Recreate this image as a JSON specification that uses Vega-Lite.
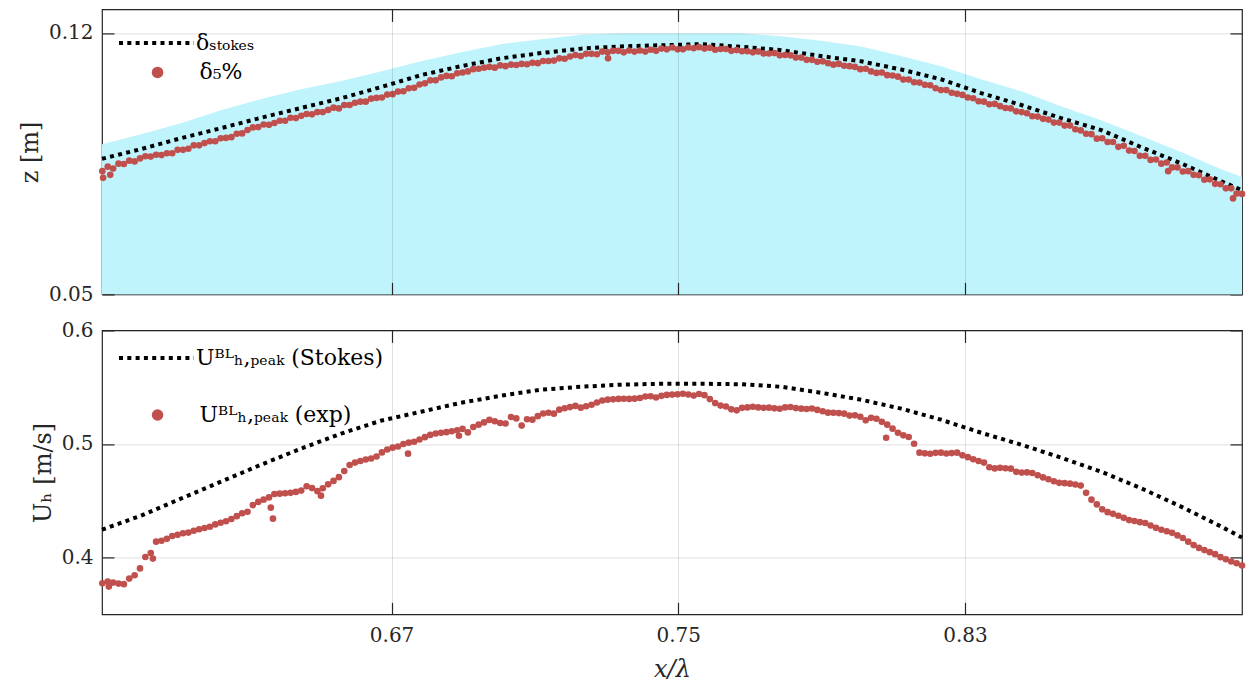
{
  "$schema": "https://vega.github.io/schema/vega-lite/v6.json",
  "background": "white",
  "padding": {"left": 17, "top": 2.4, "right": 8, "bottom": 5},
  "spacing": 36,
  "bounds": "flush",
  "resolve": {"scale": {"color": "independent", "shape": "independent"}, "legend": {"color": "independent", "shape": "independent"}},
  "config": {
    "font": "DejaVu Serif",
    "view": {"stroke": "#262626", "strokeWidth": 1.2},
    "axis": {"domain": false, "tickColor": "#262626", "tickSize": -12, "tickWidth": 1.2, "labelFont": "DejaVu Serif", "labelFontSize": 20, "labelColor": "#262626", "titleFont": "DejaVu Serif", "titleFontSize": 24, "titleFontWeight": "normal", "titleColor": "#262626", "gridColor": "#262626", "gridOpacity": 0.15, "gridWidth": 1},
    "axisY": {"titlePadding": 6, "labelPadding": 21},
    "axisX": {"titlePadding": 12, "labelPadding": 23},
    "legend": {"orient": "none", "title": null, "padding": 0, "labelLimit": 500, "labelFont": "DejaVu Serif", "labelFontSize": 22, "labelColor": "#000000"}
  },
  "datasets": {
    "crv": [
      {"x":0.5892,"zs":0.0863,"zc":0.0902,"us":0.4246},
      {"x":0.6001,"zs":0.0889,"zc":0.0929,"us":0.4369},
      {"x":0.6112,"zs":0.0918,"zc":0.0958,"us":0.4519},
      {"x":0.6224,"zs":0.0945,"zc":0.0993,"us":0.4668},
      {"x":0.6336,"zs":0.0973,"zc":0.1023,"us":0.4818},
      {"x":0.6447,"zs":0.0999,"zc":0.1049,"us":0.4959},
      {"x":0.6559,"zs":0.1025,"zc":0.1071,"us":0.5091},
      {"x":0.6670,"zs":0.1055,"zc":0.1097,"us":0.5205},
      {"x":0.6782,"zs":0.1087,"zc":0.1124,"us":0.5284},
      {"x":0.6894,"zs":0.1111,"zc":0.1148,"us":0.5363},
      {"x":0.7005,"zs":0.1132,"zc":0.1170,"us":0.5425},
      {"x":0.7117,"zs":0.1146,"zc":0.1183,"us":0.5478},
      {"x":0.7229,"zs":0.1158,"zc":0.1195,"us":0.5504},
      {"x":0.7340,"zs":0.1164,"zc":0.1199,"us":0.5522},
      {"x":0.7452,"zs":0.1167,"zc":0.1199,"us":0.5530},
      {"x":0.7564,"zs":0.1170,"zc":0.1199,"us":0.5530},
      {"x":0.7675,"zs":0.1163,"zc":0.1199,"us":0.5526},
      {"x":0.7787,"zs":0.1154,"zc":0.1191,"us":0.5504},
      {"x":0.7898,"zs":0.1138,"zc":0.1179,"us":0.5451},
      {"x":0.8010,"zs":0.1124,"zc":0.1164,"us":0.5390},
      {"x":0.8122,"zs":0.1102,"zc":0.1138,"us":0.5311},
      {"x":0.8233,"zs":0.1076,"zc":0.1111,"us":0.5214},
      {"x":0.8345,"zs":0.1039,"zc":0.1076,"us":0.5099},
      {"x":0.8457,"zs":0.1007,"zc":0.1044,"us":0.4994},
      {"x":0.8568,"zs":0.0972,"zc":0.1004,"us":0.4880},
      {"x":0.8680,"zs":0.0940,"zc":0.0966,"us":0.4756},
      {"x":0.8792,"zs":0.0894,"zc":0.0924,"us":0.4610},
      {"x":0.8903,"zs":0.0851,"zc":0.0881,"us":0.4449},
      {"x":0.9015,"zs":0.0803,"zc":0.0835,"us":0.4273},
      {"x":0.9073,"zs":0.0779,"zc":0.0814,"us":0.4176}
    ],
    "pts": [
      {"x":0.5893,"d":0.0830,"u":0.3774},{"x":0.5908,"d":0.0842,"u":0.3790},{"x":0.5923,"d":0.0837,"u":0.3780},{"x":0.5938,"d":0.0850,"u":0.3771},
      {"x":0.5953,"d":0.0849,"u":0.3766},{"x":0.5968,"d":0.0858,"u":0.3815},{"x":0.5983,"d":0.0856,"u":0.3845},{"x":0.5998,"d":0.0864,"u":0.3905},
      {"x":0.6013,"d":0.0870,"u":0.4005},{"x":0.6028,"d":0.0869,"u":0.4040},{"x":0.6043,"d":0.0874,"u":0.4140},{"x":0.6058,"d":0.0873,"u":0.4148},
      {"x":0.6073,"d":0.0878,"u":0.4165},{"x":0.6088,"d":0.0878,"u":0.4190},{"x":0.6103,"d":0.0887,"u":0.4200},{"x":0.6118,"d":0.0887,"u":0.4214},
      {"x":0.6133,"d":0.0890,"u":0.4220},{"x":0.6148,"d":0.0899,"u":0.4236},{"x":0.6163,"d":0.0899,"u":0.4250},{"x":0.6178,"d":0.0905,"u":0.4260},
      {"x":0.6193,"d":0.0910,"u":0.4272},{"x":0.6208,"d":0.0910,"u":0.4292},{"x":0.6223,"d":0.0918,"u":0.4307},{"x":0.6238,"d":0.0919,"u":0.4320},
      {"x":0.6253,"d":0.0921,"u":0.4340},{"x":0.6268,"d":0.0930,"u":0.4365},{"x":0.6283,"d":0.0931,"u":0.4390},{"x":0.6298,"d":0.0940,"u":0.4404},
      {"x":0.6313,"d":0.0947,"u":0.4462},{"x":0.6328,"d":0.0948,"u":0.4490},{"x":0.6343,"d":0.0955,"u":0.4510},{"x":0.6358,"d":0.0954,"u":0.4530},
      {"x":0.6373,"d":0.0959,"u":0.4560},{"x":0.6388,"d":0.0965,"u":0.4563},{"x":0.6403,"d":0.0965,"u":0.4566},{"x":0.6418,"d":0.0973,"u":0.4570},
      {"x":0.6433,"d":0.0972,"u":0.4578},{"x":0.6448,"d":0.0978,"u":0.4590},{"x":0.6463,"d":0.0983,"u":0.4628},{"x":0.6478,"d":0.0982,"u":0.4612},
      {"x":0.6493,"d":0.0988,"u":0.4585},{"x":0.6508,"d":0.0988,"u":0.4610},{"x":0.6523,"d":0.0994,"u":0.4645},{"x":0.6538,"d":0.1000,"u":0.4675},
      {"x":0.6553,"d":0.0998,"u":0.4708},{"x":0.6568,"d":0.1007,"u":0.4762},{"x":0.6583,"d":0.1007,"u":0.4815},{"x":0.6598,"d":0.1013,"u":0.4836},
      {"x":0.6613,"d":0.1016,"u":0.4850},{"x":0.6628,"d":0.1016,"u":0.4864},{"x":0.6643,"d":0.1024,"u":0.4872},{"x":0.6658,"d":0.1026,"u":0.4890},
      {"x":0.6673,"d":0.1027,"u":0.4926},{"x":0.6688,"d":0.1035,"u":0.4952},{"x":0.6703,"d":0.1036,"u":0.4968},{"x":0.6718,"d":0.1043,"u":0.4978},
      {"x":0.6733,"d":0.1044,"u":0.5000},{"x":0.6748,"d":0.1052,"u":0.5012},{"x":0.6763,"d":0.1053,"u":0.5020},{"x":0.6778,"d":0.1062,"u":0.5040},
      {"x":0.6793,"d":0.1065,"u":0.5060},{"x":0.6808,"d":0.1073,"u":0.5080},{"x":0.6823,"d":0.1073,"u":0.5092},{"x":0.6838,"d":0.1081,"u":0.5098},
      {"x":0.6853,"d":0.1085,"u":0.5104},{"x":0.6868,"d":0.1084,"u":0.5112},{"x":0.6883,"d":0.1092,"u":0.5120},{"x":0.6898,"d":0.1094,"u":0.5133},
      {"x":0.6913,"d":0.1097,"u":0.5102},{"x":0.6928,"d":0.1103,"u":0.5150},{"x":0.6943,"d":0.1104,"u":0.5170},{"x":0.6958,"d":0.1107,"u":0.5190},
      {"x":0.6973,"d":0.1109,"u":0.5212},{"x":0.6988,"d":0.1107,"u":0.5200},{"x":0.7003,"d":0.1113,"u":0.5185},{"x":0.7018,"d":0.1111,"u":0.5180},
      {"x":0.7033,"d":0.1115,"u":0.5238},{"x":0.7048,"d":0.1114,"u":0.5225},{"x":0.7063,"d":0.1117,"u":0.5162},{"x":0.7078,"d":0.1116,"u":0.5218},
      {"x":0.7093,"d":0.1120,"u":0.5214},{"x":0.7108,"d":0.1119,"u":0.5245},{"x":0.7123,"d":0.1125,"u":0.5268},{"x":0.7138,"d":0.1125,"u":0.5275},
      {"x":0.7153,"d":0.1126,"u":0.5267},{"x":0.7168,"d":0.1132,"u":0.5302},{"x":0.7183,"d":0.1131,"u":0.5315},{"x":0.7198,"d":0.1137,"u":0.5325},
      {"x":0.7213,"d":0.1141,"u":0.5335},{"x":0.7228,"d":0.1138,"u":0.5320},{"x":0.7243,"d":0.1144,"u":0.5332},{"x":0.7258,"d":0.1144,"u":0.5345},
      {"x":0.7273,"d":0.1143,"u":0.5365},{"x":0.7288,"d":0.1150,"u":0.5383},{"x":0.7303,"d":0.1148,"u":0.5390},{"x":0.7318,"d":0.1152,"u":0.5393},
      {"x":0.7333,"d":0.1152,"u":0.5397},{"x":0.7348,"d":0.1148,"u":0.5398},{"x":0.7363,"d":0.1153,"u":0.5397},{"x":0.7378,"d":0.1150,"u":0.5399},
      {"x":0.7393,"d":0.1153,"u":0.5405},{"x":0.7408,"d":0.1150,"u":0.5418},{"x":0.7423,"d":0.1155,"u":0.5420},{"x":0.7438,"d":0.1152,"u":0.5409},
      {"x":0.7453,"d":0.1158,"u":0.5424},{"x":0.7468,"d":0.1156,"u":0.5432},{"x":0.7483,"d":0.1161,"u":0.5435},{"x":0.7498,"d":0.1156,"u":0.5437},
      {"x":0.7513,"d":0.1156,"u":0.5442},{"x":0.7528,"d":0.1161,"u":0.5436},{"x":0.7543,"d":0.1159,"u":0.5426},{"x":0.7558,"d":0.1162,"u":0.5440},
      {"x":0.7573,"d":0.1158,"u":0.5430},{"x":0.7588,"d":0.1160,"u":0.5395},{"x":0.7603,"d":0.1155,"u":0.5360},{"x":0.7618,"d":0.1157,"u":0.5338},
      {"x":0.7633,"d":0.1157,"u":0.5330},{"x":0.7648,"d":0.1152,"u":0.5305},{"x":0.7663,"d":0.1154,"u":0.5296},{"x":0.7678,"d":0.1151,"u":0.5318},
      {"x":0.7693,"d":0.1151,"u":0.5322},{"x":0.7708,"d":0.1148,"u":0.5328},{"x":0.7723,"d":0.1150,"u":0.5322},{"x":0.7738,"d":0.1145,"u":0.5318},
      {"x":0.7753,"d":0.1145,"u":0.5320},{"x":0.7768,"d":0.1146,"u":0.5314},{"x":0.7783,"d":0.1140,"u":0.5310},{"x":0.7798,"d":0.1141,"u":0.5322},
      {"x":0.7813,"d":0.1140,"u":0.5326},{"x":0.7828,"d":0.1134,"u":0.5316},{"x":0.7843,"d":0.1134,"u":0.5311},{"x":0.7858,"d":0.1128,"u":0.5308},
      {"x":0.7873,"d":0.1128,"u":0.5312},{"x":0.7888,"d":0.1123,"u":0.5300},{"x":0.7903,"d":0.1124,"u":0.5288},{"x":0.7918,"d":0.1119,"u":0.5276},
      {"x":0.7933,"d":0.1115,"u":0.5275},{"x":0.7948,"d":0.1117,"u":0.5272},{"x":0.7963,"d":0.1112,"u":0.5267},{"x":0.7978,"d":0.1111,"u":0.5250},
      {"x":0.7993,"d":0.1109,"u":0.5252},{"x":0.8008,"d":0.1103,"u":0.5240},{"x":0.8023,"d":0.1104,"u":0.5208},{"x":0.8038,"d":0.1097,"u":0.5230},
      {"x":0.8053,"d":0.1093,"u":0.5222},{"x":0.8068,"d":0.1094,"u":0.5195},{"x":0.8083,"d":0.1087,"u":0.5170},{"x":0.8098,"d":0.1086,"u":0.5135},
      {"x":0.8113,"d":0.1083,"u":0.5099},{"x":0.8128,"d":0.1075,"u":0.5076},{"x":0.8143,"d":0.1075,"u":0.5062},{"x":0.8158,"d":0.1068,"u":0.5002},
      {"x":0.8173,"d":0.1067,"u":0.4924},{"x":0.8188,"d":0.1061,"u":0.4918},{"x":0.8203,"d":0.1060,"u":0.4914},{"x":0.8218,"d":0.1052,"u":0.4922},
      {"x":0.8233,"d":0.1047,"u":0.4924},{"x":0.8248,"d":0.1047,"u":0.4916},{"x":0.8263,"d":0.1040,"u":0.4920},{"x":0.8278,"d":0.1037,"u":0.4924},
      {"x":0.8293,"d":0.1034,"u":0.4900},{"x":0.8308,"d":0.1027,"u":0.4884},{"x":0.8323,"d":0.1025,"u":0.4866},{"x":0.8338,"d":0.1017,"u":0.4850},
      {"x":0.8353,"d":0.1016,"u":0.4836},{"x":0.8368,"d":0.1009,"u":0.4795},{"x":0.8383,"d":0.1010,"u":0.4785},{"x":0.8398,"d":0.1004,"u":0.4790},
      {"x":0.8413,"d":0.0999,"u":0.4786},{"x":0.8428,"d":0.0998,"u":0.4783},{"x":0.8443,"d":0.0990,"u":0.4755},{"x":0.8458,"d":0.0988,"u":0.4748},
      {"x":0.8473,"d":0.0985,"u":0.4750},{"x":0.8488,"d":0.0977,"u":0.4745},{"x":0.8503,"d":0.0976,"u":0.4725},{"x":0.8518,"d":0.0970,"u":0.4706},
      {"x":0.8533,"d":0.0968,"u":0.4690},{"x":0.8548,"d":0.0960,"u":0.4672},{"x":0.8563,"d":0.0960,"u":0.4658},{"x":0.8578,"d":0.0952,"u":0.4655},
      {"x":0.8593,"d":0.0952,"u":0.4651},{"x":0.8608,"d":0.0942,"u":0.4643},{"x":0.8623,"d":0.0939,"u":0.4634},{"x":0.8638,"d":0.0930,"u":0.4570},
      {"x":0.8653,"d":0.0929,"u":0.4510},{"x":0.8668,"d":0.0917,"u":0.4468},{"x":0.8683,"d":0.0918,"u":0.4425},{"x":0.8698,"d":0.0908,"u":0.4400},
      {"x":0.8713,"d":0.0908,"u":0.4385},{"x":0.8728,"d":0.0895,"u":0.4368},{"x":0.8743,"d":0.0898,"u":0.4350},{"x":0.8758,"d":0.0885,"u":0.4330},
      {"x":0.8773,"d":0.0884,"u":0.4322},{"x":0.8788,"d":0.0871,"u":0.4312},{"x":0.8803,"d":0.0871,"u":0.4305},{"x":0.8818,"d":0.0860,"u":0.4282},
      {"x":0.8833,"d":0.0861,"u":0.4262},{"x":0.8848,"d":0.0850,"u":0.4245},{"x":0.8863,"d":0.0853,"u":0.4232},{"x":0.8878,"d":0.0840,"u":0.4218},
      {"x":0.8893,"d":0.0840,"u":0.4195},{"x":0.8908,"d":0.0829,"u":0.4172},{"x":0.8923,"d":0.0830,"u":0.4140},{"x":0.8938,"d":0.0820,"u":0.4110},
      {"x":0.8953,"d":0.0819,"u":0.4085},{"x":0.8968,"d":0.0807,"u":0.4066},{"x":0.8983,"d":0.0808,"u":0.4048},{"x":0.8998,"d":0.0796,"u":0.4030},
      {"x":0.9013,"d":0.0795,"u":0.4004},{"x":0.9028,"d":0.0784,"u":0.3985},{"x":0.9043,"d":0.0784,"u":0.3966},{"x":0.9058,"d":0.0770,"u":0.3950},
      {"x":0.9073,"d":0.0769,"u":0.3930},
      {"x":0.5895,"d":0.0812},{"x":0.5915,"d":0.0820},{"x":0.7304,"d":0.1132},{"x":0.8867,"d":0.0830},{"x":0.9048,"d":0.0757},
      {"x":0.5911,"u":0.3745},{"x":0.6034,"u":0.3991},{"x":0.6363,"u":0.4440},{"x":0.6369,"u":0.4343},{"x":0.6503,"u":0.4545},
      {"x":0.6746,"u":0.4915},{"x":0.6888,"u":0.5073},{"x":0.8080,"u":0.5055}
    ]
  },
  "vconcat": [
    {
      "width": 1140,
      "height": 285,
      "layer": [
        {
          "data": {"name": "crv"},
          "mark": {"type": "area", "color": "#c0f4fc", "opacity": 1},
          "encoding": {
            "x": {"field": "x", "type": "quantitative", "scale": {"domain": [0.5892, 0.9073], "nice": false, "zero": false},
                  "axis": {"orient": "bottom", "values": [0.67, 0.75, 0.83], "labels": false, "title": null, "grid": true, "zindex": 1}},
            "y": {"field": "zc", "type": "quantitative", "scale": {"domain": [0.05, 0.1263], "nice": false, "zero": false},
                  "axis": {"orient": "left", "values": [0.05, 0.12], "format": ".2f", "title": "z [m]", "grid": true, "zindex": 1}},
            "y2": {"datum": 0.05}
          }
        },
        {
          "data": {"name": "crv"},
          "mark": {"type": "line", "strokeDash": [4, 4.3], "strokeWidth": 4, "strokeCap": "butt"},
          "encoding": {
            "x": {"field": "x", "type": "quantitative",
                  "axis": {"orient": "top", "values": [0.67, 0.75, 0.83], "labels": false, "title": null, "grid": false}},
            "y": {"field": "zs", "type": "quantitative",
                  "axis": {"orient": "right", "values": [0.05, 0.12], "labels": false, "title": null, "grid": false}},
            "color": {
              "datum": "δₛₜₒₖₑₛ",
              "scale": {"domain": ["δₛₜₒₖₑₛ"], "range": ["#000000"]},
              "legend": {"legendX": 15, "legendY": -5.9, "symbolType": "stroke", "symbolSize": 5625, "symbolStrokeWidth": 4, "symbolDash": [4, 4.3], "symbolStrokeColor": "#000000", "labelOffset": 0}
            }
          }
        },
        {
          "data": {"name": "pts"},
          "mark": {"type": "point", "filled": true, "size": 44, "opacity": 1, "color": "#c0504d"},
          "encoding": {
            "x": {"field": "x", "type": "quantitative", "axis": null},
            "y": {"field": "d", "type": "quantitative", "axis": null},
            "shape": {
              "datum": "δ₅%",
              "scale": {"domain": ["δ₅%"], "range": ["circle"]},
              "legend": {"legendX": 17, "legendY": 52, "symbolType": "circle", "symbolSize": 133, "symbolFillColor": "#c0504d", "symbolStrokeWidth": 0, "symbolOffset": 27.55, "labelOffset": 31}
            }
          }
        }
      ],
      "resolve": {"axis": {"x": "independent", "y": "independent"}}
    },
    {
      "width": 1140,
      "height": 284,
      "layer": [
        {
          "data": {"name": "crv"},
          "mark": {"type": "line", "strokeDash": [4, 4.3], "strokeWidth": 4, "strokeCap": "butt"},
          "encoding": {
            "x": {"field": "x", "type": "quantitative", "scale": {"domain": [0.5892, 0.9073], "nice": false, "zero": false},
                  "axis": {"orient": "bottom", "values": [0.67, 0.75, 0.83], "format": ".2f", "title": "x/λ", "titleFontStyle": "italic", "grid": true}},
            "y": {"field": "us", "type": "quantitative", "scale": {"domain": [0.35, 0.6], "nice": false, "zero": false},
                  "axis": {"orient": "left", "values": [0.4, 0.5, 0.6], "format": ".1f", "title": "Uₕ [m/s]", "grid": true}},
            "color": {
              "datum": "Uᴮᴸₕ,ₚₑₐₖ (Stokes)",
              "scale": {"domain": ["Uᴮᴸₕ,ₚₑₐₖ (Stokes)"], "range": ["#000000"]},
              "legend": {"legendX": 15, "legendY": -11.9, "symbolType": "stroke", "symbolSize": 5625, "symbolStrokeWidth": 4, "symbolDash": [4, 4.3], "symbolStrokeColor": "#000000", "labelOffset": 0}
            }
          }
        },
        {
          "data": {"name": "pts"},
          "mark": {"type": "point", "filled": true, "size": 44, "opacity": 1, "color": "#c0504d"},
          "encoding": {
            "x": {"field": "x", "type": "quantitative",
                  "axis": {"orient": "top", "values": [0.67, 0.75, 0.83], "labels": false, "title": null, "grid": false}},
            "y": {"field": "u", "type": "quantitative",
                  "axis": {"orient": "right", "values": [0.4, 0.5, 0.6], "labels": false, "title": null, "grid": false}},
            "shape": {
              "datum": "Uᴮᴸₕ,ₚₑₐₖ (exp)",
              "scale": {"domain": ["Uᴮᴸₕ,ₚₑₐₖ (exp)"], "range": ["circle"]},
              "legend": {"legendX": 17, "legendY": 73.65, "symbolType": "circle", "symbolSize": 133, "symbolFillColor": "#c0504d", "symbolStrokeWidth": 0, "symbolOffset": 27.55, "labelOffset": 31}
            }
          }
        }
      ],
      "resolve": {"axis": {"x": "independent", "y": "independent"}}
    }
  ]
}
